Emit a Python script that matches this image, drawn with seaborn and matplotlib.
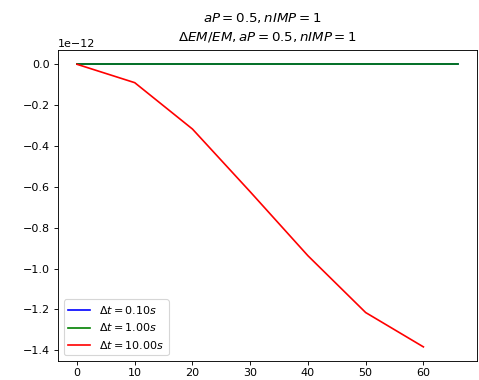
import numpy as np
import pandas as pd
import seaborn as sns
import matplotlib
matplotlib.use('Agg')
import matplotlib.pyplot as plt

# data (units of 1e-12)
t_blue = [0, 10, 20, 30, 40, 50, 60, 66]
em_blue = [0, 0, 0, 0, 0, 0, 0, 0]
t_green = [0, 10, 20, 30, 40, 50, 60, 66]
em_green = [0, 0, 0, 0, 0, 0, 0, 0]
t_red = [0, 10, 20, 30, 40, 50, 60]
em_red = [0, -0.09, -0.317, -0.624, -0.937, -1.215, -1.383]
labels = [r'$\Delta t = 0.10 s$', r'$\Delta t = 1.00 s$', r'$\Delta t = 10.00 s$']
colors = ['blue', 'green', 'red']

fig, ax = plt.subplots(figsize=(479 / 80, 380 / 80), dpi=80)
series = [(t_blue, em_blue), (t_green, em_green), (t_red, em_red)]
for (t, em), lab, c in zip(series, labels, colors):
    df = pd.DataFrame({'t': t, 'em': np.array(em) * 1e-12})
    sns.lineplot(data=df, x='t', y='em', color=c, label=lab, ax=ax)

ax.set_xlabel('')
ax.set_ylabel('')
ax.tick_params(axis='x', pad=2.5)
ax.legend(loc='lower left')
ax.set_title(r'$\Delta EM/EM, aP=0.5, nIMP=1$', pad=9)
fig.suptitle(r'$aP=0.5, nIMP=1$', x=0.547, y=0.972)
plt.subplots_adjust(left=0.121, right=0.996, top=0.868, bottom=0.05)
plt.savefig('out.png', dpi=80)
